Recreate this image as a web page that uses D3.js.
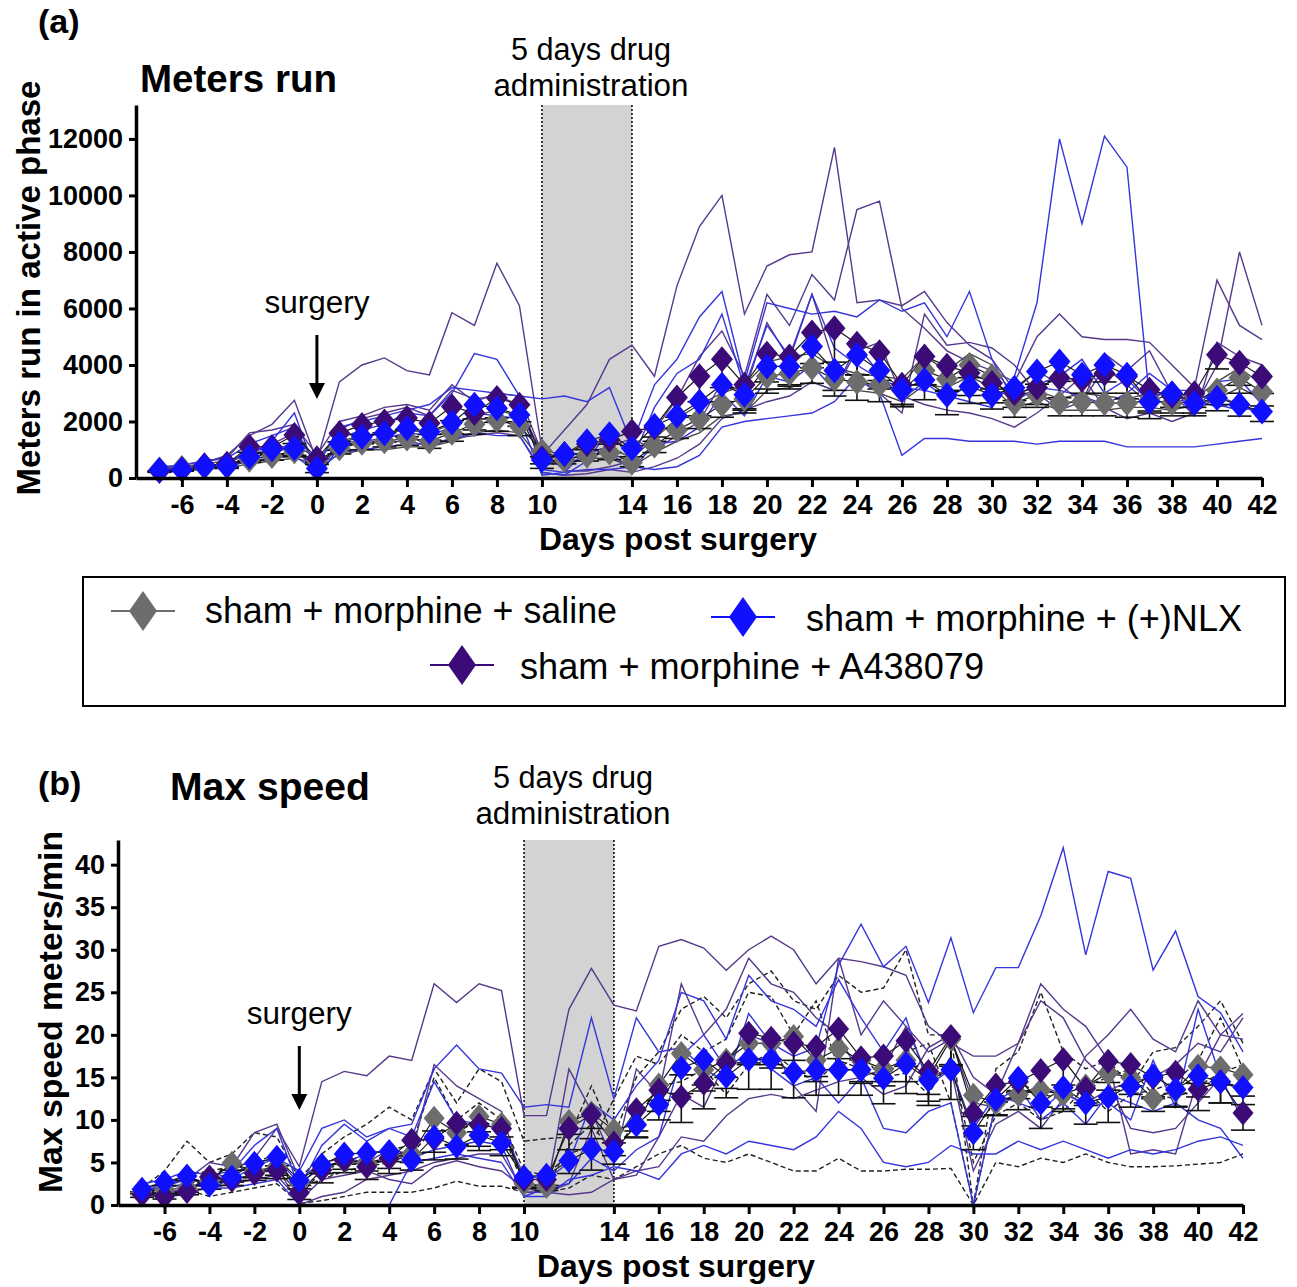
<!DOCTYPE html>
<html>
<head>
<meta charset="utf-8">
<script src="https://cdn.jsdelivr.net/npm/d3@7"></script>
<style>
body { margin: 0; background: #fff; }
text { font-family: Arial, "Liberation Sans", Helvetica, sans-serif; }
</style>
</head>
<body>
<script>
// days post surgery (-7 .. 42)
const days = [
    -7, -6, -5, -4, -3, -2, -1, 0, 1, 2,
    3, 4, 5, 6, 7, 8, 9, 10, 11, 12,
    13, 14, 15, 16, 17, 18, 19, 20, 21, 22,
    23, 24, 25, 26, 27, 28, 29, 30, 31, 32,
    33, 34, 35, 36, 37, 38, 39, 40, 41, 42
];
const xTickDays = [-6, -4, -2, 0, 2, 4, 6, 8, 10, 14, 16, 18, 20, 22, 24, 26, 28, 30, 32, 34, 36, 38, 40, 42];
const yTicksA = [0, 2000, 4000, 6000, 8000, 10000, 12000];
const yTicksB = [0, 5, 10, 15, 20, 25, 30, 35, 40];
const drugDays = [10, 14];
const groupNames = ['sham + morphine + saline', 'sham + morphine + (+)NLX', 'sham + morphine + A438079'];

// ---- (a) meters run, group means
const grayMeanA = [
    300, 350, 400, 450, 650, 780, 950, 600, 1050, 1250,
    1300, 1400, 1300, 1600, 1900, 2050, 1850, 950, 650, 800,
    900, 550, 1150, 1700, 2100, 2600, 2800, 3600, 3700, 3900,
    3500, 3400, 3300, 3100, 3800, 3500, 4000, 3600, 2650, 2950,
    2650, 2700, 2650, 2650, 2750, 2650, 2700, 3100, 3550, 3050
];
const blueMeanA = [
    280, 300, 420, 420, 750, 1020, 1050, 340, 1230, 1460,
    1580, 1760, 1640, 1960, 2590, 2470, 2230, 640, 850, 1300,
    1550, 1050, 1850, 2200, 2700, 3300, 2950, 3950, 3950, 4650,
    3800, 4350, 3800, 3120, 3470, 2940, 3240, 2940, 3190, 3770,
    4120, 3650, 4000, 3650, 2700, 3000, 2650, 2830, 2590, 2350
];
const purpleMeanA = [
    250, 300, 450, 500, 1110, 1100, 1520, 700, 1580, 1880,
    2000, 2120, 1940, 2530, 2300, 2830, 2590, 700, 850, 1200,
    1350, 1650, 1800, 2850, 3600, 4200, 3300, 4400, 4300, 5150,
    5300, 4750, 4450, 3300, 4300, 3970, 3720, 3360, 3000, 3200,
    3540, 3480, 3700, 3600, 3120, 2900, 3000, 4360, 4080, 3590
];
const graySemA = [
    50, 60, 60, 70, 100, 150, 200, 120, 200, 250,
    200, 250, 250, 300, 350, 400, 350, 200, 150, 200,
    250, 150, 250, 300, 350, 450, 500, 600, 550, 550,
    600, 650, 600, 500, 500, 400, 450, 450, 500, 450,
    450, 500, 450, 500, 450, 450, 400, 500, 550, 500
];
const blueSemA = [
    50, 50, 70, 80, 150, 200, 250, 150, 250, 250,
    300, 300, 300, 400, 500, 500, 400, 300, 250, 300,
    350, 300, 400, 450, 500, 600, 500, 800, 700, 750,
    700, 700, 650, 600, 700, 700, 600, 500, 450, 450,
    700, 650, 600, 650, 600, 500, 450, 450, 400, 350
];
const purpleSemA = [
    50, 60, 80, 100, 200, 250, 300, 150, 300, 350,
    400, 400, 400, 500, 600, 700, 600, 200, 250, 350,
    450, 500, 500, 700, 900, 1000, 900, 1000, 1000, 1100,
    1200, 1100, 1000, 700, 1000, 900, 800, 700, 500, 600,
    700, 800, 700, 800, 750, 600, 500, 500, 800, 600
];

// ---- (a) individual animals
const purpleRatsA = [
    [250, 350, 550, 800, 1500, 1900, 2750, 600, 3400, 4000,
     4250, 3800, 3650, 5850, 5400, 7600, 6100, 1000, 250, 250,
     400, 600, 1700, 2800, 4300, 5200, 3600, 6500, 5400, 7200,
     6300, 9500, 9800, 6000, 5300, 4500, 4100, 3800, 3400, 5000,
     5800, 5000, 4900, 4900, 4800, 4000, 3200, 7000, 5400, 4900],
    [300, 300, 400, 500, 900, 1200, 1600, 500, 1700, 2100,
     2300, 2500, 2200, 3100, 2800, 2900, 2600, 800, 1700, 2600,
     4200, 4700, 3600, 6800, 8900, 10000, 5800, 7500, 7900, 8000,
     11700, 6200, 6300, 6100, 6600, 5500, 4700, 4200, 3100, 3800,
     3300, 2700, 3900, 3300, 2600, 3400, 2500, 4000, 8000, 5400],
    [200, 250, 300, 450, 700, 900, 1100, 300, 1100, 1300,
     1200, 1350, 1100, 1400, 1500, 1600, 1500, 200, 100, 150,
     300, 200, 400, 700, 1200, 2100, 2400, 2700, 2900, 3400,
     3100, 4500, 4800, 2900, 2600, 2400, 2300, 2100, 1800, 2300,
     2900, 3600, 2500, 2100, 2300, 2000, 2300, 2900, 2600, 2300],
    [350, 450, 600, 700, 1600, 1700, 1900, 800, 2000, 2200,
     2500, 2600, 2400, 3300, 2700, 3000, 2900, 900, 600, 900,
     1100, 1400, 1000, 1500, 2000, 3400, 3000, 5500, 4200, 6500,
     4000, 3500, 3000, 2300, 5800, 4700, 4800, 4600, 4000, 3000,
     2400, 2700, 4400, 3800, 4500, 3000, 2200, 4800, 4300, 4000]
];
const blueRatsA = [
    [300, 300, 500, 400, 800, 1300, 2300, 100, 1400, 1700,
     1900, 2300, 2200, 3000, 4400, 4200, 2900, 200, 100, 600,
     1700, 600, 2500, 3700, 4200, 5800, 3200, 5400, 4300, 6500,
     4600, 4000, 3500, 3200, 3100, 2900, 2700, 2500, 3600, 6200,
     12000, 9000, 12100, 11000, 2800, 3200, 2300, 3400, 3500, 2600],
    [200, 250, 350, 400, 600, 700, 800, 200, 900, 1000,
     1100, 1200, 1200, 1400, 1600, 1500, 1500, 300, 200, 300,
     300, 400, 300, 400, 800, 1800, 2000, 2100, 2200, 2300,
     2700, 3600, 3000, 800, 1400, 1400, 1300, 1300, 1300, 1200,
     1300, 1300, 1300, 1100, 1100, 1100, 1100, 1200, 1300, 1400],
    [400, 450, 600, 700, 1200, 1500, 1800, 400, 1800, 2000,
     2200, 2400, 2600, 3200, 3100, 3000, 2900, 2800, 2900, 2700,
     3200, 1200, 3300, 4200, 5700, 6600, 3400, 6200, 6000, 5800,
     5900, 5700, 6300, 5900, 6200, 5000, 6600, 4200, 2700, 3200,
     3100, 2900, 2600, 3000, 3700, 3100, 3100, 2600, 2400, 2500],
    [250, 300, 400, 500, 1000, 1000, 1200, 0, 1100, 1300,
     1400, 1600, 1500, 1800, 2300, 2200, 2100, 100, 200, 1000,
     900, 300, 1200, 1300, 1800, 3000, 2200, 3600, 3400, 4000,
     3100, 4700, 3700, 2800, 3400, 2800, 3300, 3100, 2900, 3300,
     3600, 4200, 3000, 3500, 2700, 2700, 2800, 2500, 2700, 2100]
];
const grayRatsA = [
    [350, 400, 500, 600, 800, 1000, 1200, 700, 1300, 1500,
     1600, 1700, 1600, 1900, 2200, 2400, 2200, 1000, 800, 900,
     1100, 700, 1400, 2100, 2600, 3000, 3300, 4100, 4300, 4400,
     3900, 3700, 3600, 3500, 4300, 3800, 4400, 4000, 2900, 3100,
     2800, 3000, 2900, 2800, 3000, 2900, 2800, 3400, 3900, 3300],
    [250, 300, 350, 350, 500, 600, 700, 500, 800, 1000,
     1000, 1100, 1100, 1300, 1600, 1700, 1600, 600, 500, 700,
     700, 400, 900, 1300, 1600, 2200, 2300, 3100, 3200, 3400,
     3100, 3100, 3000, 2700, 3300, 3200, 3600, 3200, 2500, 2700,
     2400, 2400, 2400, 2500, 2500, 2400, 2600, 2800, 3200, 2800]
];

// ---- (b) max speed, group means
const grayMeanB = [
    1.6, 1.8, 2.0, 2.8, 4.9, 4.0, 4.5, 2.5, 4.5, 5.2,
    5.0, 5.5, 6.0, 10.2, 8.5, 10.4, 9.5, 2.5, 2.2, 9.8,
    10.8, 8.8, 9.5, 14.1, 17.8, 15.9, 17.0, 19.0, 19.0, 19.8,
    17.0, 18.4, 17.0, 16.0, 17.0, 15.0, 19.5, 12.9, 12.0, 13.0,
    13.5, 13.0, 14.0, 15.5, 15.0, 12.5, 13.5, 16.3, 16.1, 15.3
];
const blueMeanB = [
    1.85, 2.7, 3.4, 2.35, 3.3, 4.9, 5.6, 2.9, 4.7, 6.0,
    6.1, 6.3, 5.3, 8.0, 6.9, 8.2, 7.3, 3.3, 3.5, 5.2,
    6.6, 6.3, 9.4, 11.8, 16.1, 17.1, 15.1, 17.1, 17.1, 15.6,
    15.9, 15.9, 15.9, 14.9, 16.6, 14.7, 15.9, 8.5, 12.4, 14.9,
    12.0, 13.8, 12.0, 12.7, 14.0, 15.2, 13.6, 15.2, 14.5, 13.8
];
const purpleMeanB = [
    1.2, 1.0, 1.6, 3.3, 2.9, 3.7, 4.1, 1.45, 4.1, 5.3,
    4.5, 5.5, 7.6, 7.8, 9.6, 9.4, 9.0, 3.0, 3.0, 9.0,
    10.6, 7.3, 11.2, 13.5, 12.7, 14.3, 16.7, 20.2, 19.6, 19.0,
    18.6, 20.7, 17.3, 17.5, 19.3, 15.7, 19.8, 10.8, 14.1, 14.5,
    15.8, 17.1, 13.7, 16.9, 16.5, 15.0, 15.6, 13.6, 14.5, 10.8
];
const graySemB = [
    0.3, 0.4, 0.5, 0.5, 0.8, 0.8, 1.0, 0.6, 0.8, 1.0,
    1.0, 1.2, 1.0, 1.5, 1.5, 1.8, 1.5, 0.5, 0.5, 1.5,
    1.8, 1.5, 1.5, 1.8, 2.5, 2.5, 2.0, 2.5, 2.5, 2.8,
    2.5, 2.5, 2.5, 2.0, 2.5, 2.0, 3.0, 2.5, 1.5, 1.8,
    2.0, 2.0, 2.0, 2.0, 2.0, 1.5, 2.0, 2.0, 2.0, 2.5
];
const blueSemB = [
    0.3, 0.4, 0.5, 0.5, 0.6, 0.8, 1.0, 0.6, 1.0, 1.2,
    1.0, 1.2, 1.2, 1.8, 1.5, 1.8, 1.5, 1.2, 1.2, 1.5,
    2.5, 1.5, 1.5, 1.8, 3.0, 3.0, 2.5, 3.5, 3.5, 3.0,
    3.0, 3.0, 3.0, 3.0, 3.5, 3.0, 3.5, 2.0, 1.8, 1.5,
    3.0, 2.5, 2.5, 3.0, 2.5, 2.5, 2.0, 2.5, 2.5, 2.0
];
const purpleSemB = [
    0.3, 0.3, 0.4, 0.6, 0.6, 0.8, 1.0, 0.8, 1.5, 1.5,
    1.5, 1.8, 1.5, 2.5, 2.5, 2.5, 2.5, 1.0, 1.0, 2.5,
    2.8, 1.5, 2.5, 2.5, 3.0, 3.0, 3.0, 3.5, 3.5, 3.5,
    3.5, 3.5, 3.0, 3.0, 3.0, 3.5, 3.5, 1.5, 2.0, 2.0,
    2.5, 3.0, 2.0, 2.5, 2.5, 2.5, 2.5, 2.5, 2.5, 2.0
];

// ---- (b) individual animals
const purpleRatsB = [
    [1.5, 1.3, 2.0, 2.5, 4.0, 5.5, 9.0, 4.5, 14.5, 15.7,
     15.2, 17.5, 17.0, 26.0, 23.8, 26.0, 25.2, 10.5, 10.5, 23.0,
     27.8, 23.5, 22.8, 30.4, 31.2, 30.2, 27.6, 30.0, 31.6, 30.0,
     26.0, 29.0, 28.6, 28.0, 27.0, 21.0, 19.0, 17.5, 17.5, 19.0,
     24.0, 22.0, 17.0, 14.5, 9.0, 8.5, 9.0, 12.0, 15.0, 13.0],
    [1.0, 1.2, 1.5, 2.0, 2.5, 3.0, 3.5, 0.5, 3.0, 3.5,
     4.0, 3.0, 2.5, 4.5, 5.2, 4.5, 4.0, 2.0, 1.5, 1.2,
     1.5, 3.0, 4.0, 4.5, 8.0, 7.5, 10.5, 12.5, 13.0, 12.5,
     13.5, 14.5, 15.0, 16.0, 21.0, 18.0, 19.5, 12.0, 11.5, 13.0,
     14.0, 13.0, 12.0, 13.5, 14.5, 15.0, 16.5, 19.0, 18.0, 22.0],
    [2.0, 2.5, 3.0, 5.0, 4.5, 8.5, 9.5, 3.0, 5.0, 5.5,
     5.0, 6.5, 6.0, 16.5, 14.0, 12.5, 11.0, 2.0, 1.5, 16.0,
     11.0, 5.0, 16.0, 13.0, 26.0, 20.0, 23.0, 29.0, 26.0, 25.0,
     22.0, 20.0, 15.0, 13.0, 14.0, 18.5, 20.0, 15.0, 13.0, 19.0,
     26.0, 23.0, 21.0, 17.0, 6.0, 6.5, 6.0, 15.0, 20.0, 22.5],
    [1.5, 1.0, 1.2, 4.0, 3.0, 3.5, 4.5, 0.0, 1.0, 1.5,
     3.0, 3.5, 4.0, 5.0, 5.5, 6.0, 6.0, 1.5, 1.5, 2.5,
     9.0, 3.0, 3.5, 8.0, 13.0, 11.5, 17.0, 20.0, 19.0, 14.0,
     11.0, 29.0, 20.0, 24.0, 21.0, 15.0, 16.0, 4.0, 9.5, 11.0,
     9.0, 12.5, 17.5, 20.0, 23.0, 19.5, 18.0, 24.0, 20.0, 19.5]
];
const blueRatsB = [
    [2.0, 2.5, 3.5, 2.0, 3.0, 4.5, 5.5, 4.0, 9.0, 10.0,
     8.0, 9.0, 9.5, 16.0, 18.8, 16.0, 15.5, 11.5, 11.8, 11.5,
     22.0, 12.5, 22.0, 18.0, 18.5, 16.0, 14.5, 22.5, 19.0, 17.5,
     18.5, 28.2, 33.0, 28.0, 30.4, 23.8, 31.4, 22.6, 27.9, 27.9,
     34.0, 42.0, 29.4, 39.2, 38.4, 27.6, 32.2, 24.5, 22.6, 18.0],
    [1.5, 2.0, 2.5, 2.0, 2.0, 2.5, 3.0, 0.0, 0.0, 0.0,
     0.0, 0.0, 5.0, 5.5, 6.0, 5.5, 5.0, 1.0, 1.0, 3.0,
     3.5, 4.5, 4.0, 3.0, 6.0, 7.0, 6.0, 7.5, 7.0, 6.5,
     8.0, 11.0, 9.0, 5.0, 4.5, 5.0, 7.0, 6.0, 6.0, 7.5,
     6.5, 7.5, 6.5, 5.5, 6.5, 6.0, 6.5, 7.5, 8.0, 7.0],
    [2.5, 3.0, 4.0, 3.5, 4.0, 7.0, 9.0, 2.0, 7.0, 9.5,
     7.5, 9.0, 8.0, 14.5, 10.0, 9.5, 9.0, 3.5, 3.0, 5.0,
     12.0, 10.0, 14.0, 17.0, 25.0, 24.0, 19.5, 27.0, 24.0, 23.0,
     21.0, 26.5, 22.0, 18.0, 22.0, 14.0, 16.0, 9.0, 13.0, 12.0,
     11.0, 13.5, 11.5, 12.0, 10.0, 17.0, 11.5, 23.0, 15.0, 10.0],
    [1.8, 2.2, 3.0, 2.5, 3.5, 5.0, 5.5, 2.5, 4.5, 5.0,
     6.0, 6.5, 5.5, 6.5, 7.0, 7.5, 7.0, 1.0, 2.0, 2.5,
     5.5, 4.0, 6.5, 8.0, 17.5, 20.0, 16.0, 18.0, 16.0, 14.0,
     15.0, 12.0, 15.0, 9.0, 8.5, 11.0, 12.0, 0.0, 12.0, 14.0,
     10.0, 12.0, 9.5, 13.0, 12.0, 11.0, 12.0, 10.0, 9.0, 5.5]
];
const grayRatsB = [
    [2.0, 4.0, 7.5, 5.0, 6.0, 8.5, 8.0, 3.0, 6.0, 8.0,
     9.5, 11.5, 10.0, 16.0, 12.0, 16.0, 14.5, 7.5, 7.8, 8.0,
     14.0, 8.0, 15.0, 18.0, 23.0, 24.5, 22.0, 26.0, 27.5, 24.0,
     23.0, 27.0, 25.0, 25.5, 30.0, 20.0, 20.0, 0.0, 16.0, 18.0,
     25.0, 18.0, 16.0, 17.0, 14.0, 18.0, 18.5, 21.0, 24.0, 19.0],
    [1.5, 1.5, 1.8, 1.0, 1.5, 2.0, 2.5, 0.2, 0.5, 1.0,
     1.5, 1.5, 1.5, 2.0, 2.8, 2.2, 2.2, 1.5, 1.5, 2.0,
     3.5, 3.0, 4.5, 6.0, 7.0, 5.5, 5.0, 6.0, 5.0, 4.0,
     4.0, 5.5, 4.0, 4.0, 4.2, 4.2, 4.3, 0.0, 5.0, 4.5,
     5.5, 5.0, 6.0, 5.0, 4.5, 4.5, 4.6, 4.8, 5.0, 6.0],
    [1.2, 2.5, 3.5, 4.0, 4.5, 5.0, 6.0, 1.0, 4.0, 5.0,
     6.0, 6.5, 7.0, 15.0, 10.0, 12.0, 10.0, 4.0, 3.5, 6.0,
     7.0, 12.5, 17.5, 16.5, 20.0, 18.0, 19.5, 25.0, 24.5, 20.0,
     24.0, 16.0, 18.0, 14.5, 18.0, 19.0, 12.0, 0.0, 12.0, 14.5,
     13.0, 12.5, 13.5, 11.0, 13.0, 13.5, 14.5, 17.0, 22.0, 16.0],
    [1.8, 2.0, 2.5, 3.0, 5.0, 3.5, 4.5, 2.0, 3.0, 4.0,
     4.5, 5.0, 6.0, 9.0, 8.5, 10.0, 9.0, 2.0, 2.0, 7.0,
     9.5, 6.0, 10.0, 14.0, 14.5, 16.0, 13.0, 16.5, 18.0, 16.0,
     14.5, 17.0, 16.0, 15.0, 15.5, 13.0, 17.5, 5.0, 10.5, 12.0,
     10.0, 11.0, 14.0, 15.0, 16.0, 13.0, 12.5, 14.0, 15.5, 16.5]
];

const grayColor = '#6d6d6d';
const blueColor = '#1010ff';
const purpleColor = '#3b0b78';

const svg = d3
.select('body')
.append('svg')
.attr('width', 1297)
.attr('height', 1287)

// diamond marker, w x h
const diamond = (w, h) => `M0,${-h / 2}L${w / 2},0L0,${h / 2}L${-w / 2},0Z`;

function drawPanel(p) {
    const x = d3.scaleLinear().domain([p.xStart, 42]).range([p.left, p.right]);
    const y = d3.scaleLinear().domain([0, p.yMax]).range([p.bottom, p.top]);
    const g = svg.append('g');

    // drug window
    g.append('rect')
    .attr('x', x(drugDays[0]))
    .attr('y', p.top)
    .attr('width', x(drugDays[1]) - x(drugDays[0]))
    .attr('height', p.bottom - p.top)
    .attr('fill', '#d3d3d3')
    g.selectAll('.drugline')
    .data(drugDays).enter()
    .append('line')
    .attr('x1', (d) => x(d)).attr('x2', (d) => x(d))
    .attr('y1', p.top).attr('y2', p.bottom)
    .attr('stroke', '#111')
    .attr('stroke-width', 1.6)
    .attr('stroke-dasharray', '2,2')

    const line = d3.line()
    .x((d, i) => x(days[i]))
    .y((d) => y(d))

    // single animals
    const rats = [
        ...p.grayRats.map((r) => ({ v: r, c: p.grayRatColor, dash: p.grayDash })),
        ...p.purpleRats.map((r) => ({ v: r, c: '#56398c', dash: null })),
        ...p.blueRats.map((r) => ({ v: r, c: '#3535dd', dash: null }))
    ];
    g.selectAll('.rat')
    .data(rats).enter()
    .append('path')
    .attr('d', (d) => line(d.v))
    .attr('fill', 'none')
    .attr('stroke', (d) => d.c)
    .attr('stroke-width', 1.4)
    .attr('stroke-dasharray', (d) => d.dash)

    const groups = [
        { mean: p.grayMean, sem: p.graySem, color: grayColor },
        { mean: p.purpleMean, sem: p.purpleSem, color: purpleColor },
        { mean: p.blueMean, sem: p.blueSem, color: blueColor }
    ];

    groups.forEach((grp) => {
        g.append('path')
        .attr('d', line(grp.mean))
        .attr('fill', 'none')
        .attr('stroke', '#1a1a1a')
        .attr('stroke-width', 1.2)
    })

    // error bars (downward, black)
    groups.forEach((grp) => {
        const eb = g.append('g').attr('stroke', '#111').attr('stroke-width', 1.6);
        grp.mean.forEach((m, i) => {
            const lo = Math.max(0, m - grp.sem[i]);
            eb.append('line')
            .attr('x1', x(days[i])).attr('x2', x(days[i]))
            .attr('y1', y(m)).attr('y2', y(lo))
            eb.append('line')
            .attr('x1', x(days[i]) - 12).attr('x2', x(days[i]) + 12)
            .attr('y1', y(lo)).attr('y2', y(lo))
        })
    })

    groups.forEach((grp) => {
        g.selectAll(null)
        .data(grp.mean).enter()
        .append('path')
        .attr('d', diamond(p.mw, p.mh))
        .attr('transform', (d, i) => `translate(${x(days[i])},${y(d)})`)
        .attr('fill', grp.color)
    })

    // axes (plain hyphen for negatives, like the original)
    const yAxis = g.append('g')
    .attr('transform', `translate(${p.left},0)`)
    .call(d3.axisLeft(y).tickValues(p.yTicks).tickFormat((d) => String(d)).tickSize(7).tickSizeOuter(0).tickPadding(6))
    const xAxis = g.append('g')
    .attr('transform', `translate(0,${p.bottom})`)
    .call(d3.axisBottom(x).tickValues(xTickDays).tickFormat((d) => String(d)).tickSize(9).tickSizeOuter(0).tickPadding(8))
    ;[yAxis, xAxis].forEach((ax) => {
        ax.select('.domain').attr('stroke', '#000').attr('stroke-width', 3.5)
        ax.selectAll('.tick line').attr('stroke', '#000').attr('stroke-width', 3)
        ax.selectAll('.tick text')
        .attr('fill', '#000')
        .style('font-family', 'Arial, "Liberation Sans", sans-serif')
        .style('font-weight', 'bold')
        .style('font-size', '27px')
    })

    // annotations
    g.append('text')
    .attr('x', 38).attr('y', p.letterY)
    .style('font-weight', 'bold').style('font-size', '34px')
    .text(p.letter)
    g.append('text')
    .attr('x', p.titleX).attr('y', p.titleY)
    .attr('textLength', p.titleLen).attr('lengthAdjust', 'spacingAndGlyphs')
    .style('font-weight', 'bold').style('font-size', '38px')
    .text(p.title)
    const drugX = (x(drugDays[0]) + x(drugDays[1])) / 2 + 4;
    g.append('text')
    .attr('x', drugX).attr('y', p.drugY)
    .attr('text-anchor', 'middle').style('font-size', '31px')
    .attr('textLength', 160).attr('lengthAdjust', 'spacingAndGlyphs')
    .text('5 days drug')
    g.append('text')
    .attr('x', drugX).attr('y', p.drugY + 36)
    .attr('text-anchor', 'middle').style('font-size', '31px')
    .attr('textLength', 195).attr('lengthAdjust', 'spacingAndGlyphs')
    .text('administration')
    g.append('text')
    .attr('x', x(0)).attr('y', p.surgeryY)
    .attr('text-anchor', 'middle').style('font-size', '31px')
    .attr('textLength', 105).attr('lengthAdjust', 'spacingAndGlyphs')
    .text('surgery')
    g.append('line')
    .attr('x1', x(0)).attr('x2', x(0))
    .attr('y1', p.surgeryY + 22).attr('y2', p.surgeryY + 72)
    .attr('stroke', '#000').attr('stroke-width', 3)
    g.append('path')
    .attr('d', `M${x(0) - 8},${p.surgeryY + 70}L${x(0) + 8},${p.surgeryY + 70}L${x(0)},${p.surgeryY + 86}Z`)
    .attr('fill', '#000')

    g.append('text')
    .attr('transform', `translate(${p.yLabelX},${p.yLabelY}) rotate(-90)`)
    .attr('text-anchor', 'middle')
    .attr('textLength', p.yLabelLen).attr('lengthAdjust', 'spacingAndGlyphs')
    .style('font-weight', 'bold').style('font-size', '34px')
    .text(p.yLabel)
    g.append('text')
    .attr('x', p.xLabelX).attr('y', p.bottom + 72)
    .attr('text-anchor', 'middle')
    .attr('textLength', 278).attr('lengthAdjust', 'spacingAndGlyphs')
    .style('font-weight', 'bold').style('font-size', '31px')
    .text('Days post surgery')
}

drawPanel({
    xStart: -8.04, left: 136, right: 1262,
    yMax: 13200, top: 105, bottom: 478, yTicks: yTicksA,
    grayMean: grayMeanA, blueMean: blueMeanA, purpleMean: purpleMeanA,
    graySem: graySemA, blueSem: blueSemA, purpleSem: purpleSemA,
    grayRats: grayRatsA, purpleRats: purpleRatsA, blueRats: blueRatsA,
    grayRatColor: '#4a4a4a', grayDash: null,
    mw: 22, mh: 26,
    letter: '(a)', letterY: 33,
    title: 'Meters run', titleX: 140, titleY: 92, titleLen: 197,
    drugY: 60, surgeryY: 313,
    yLabel: 'Meters run in active phase', yLabelX: 40, yLabelY: 288, yLabelLen: 415,
    xLabelX: 678
})

drawPanel({
    xStart: -8.07, left: 118, right: 1243,
    yMax: 42.9, top: 840, bottom: 1205, yTicks: yTicksB,
    grayMean: grayMeanB, blueMean: blueMeanB, purpleMean: purpleMeanB,
    graySem: graySemB, blueSem: blueSemB, purpleSem: purpleSemB,
    grayRats: grayRatsB, purpleRats: purpleRatsB, blueRats: blueRatsB,
    grayRatColor: '#222', grayDash: '5,3',
    mw: 21, mh: 25,
    letter: '(b)', letterY: 795,
    title: 'Max speed', titleX: 170, titleY: 800, titleLen: 200,
    drugY: 788, surgeryY: 1024,
    yLabel: 'Max speed meters/min', yLabelX: 62, yLabelY: 1012, yLabelLen: 362,
    xLabelX: 676
})

// legend
const legend = svg.append('g');
legend.append('rect')
.attr('x', 83).attr('y', 577)
.attr('width', 1202).attr('height', 129)
.attr('fill', 'none').attr('stroke', '#000').attr('stroke-width', 2)

const legendItems = [
    { name: groupNames[0], color: grayColor, mx: 143, my: 611, tx: 205, ty: 623, len: 412 },
    { name: groupNames[1], color: blueColor, mx: 743, my: 617, tx: 806, ty: 631, len: 436 },
    { name: groupNames[2], color: purpleColor, mx: 462, my: 665, tx: 520, ty: 679, len: 464 }
];
const li = legend.selectAll('.item')
.data(legendItems).enter()
.append('g')
li.append('line')
.attr('x1', (d) => d.mx - 32).attr('x2', (d) => d.mx + 32)
.attr('y1', (d) => d.my).attr('y2', (d) => d.my)
.attr('stroke', (d) => d.color).attr('stroke-width', 2)
li.append('path')
.attr('d', diamond(28, 40))
.attr('transform', (d) => `translate(${d.mx},${d.my})`)
.attr('fill', (d) => d.color)
li.append('text')
.attr('x', (d) => d.tx).attr('y', (d) => d.ty)
.attr('textLength', (d) => d.len).attr('lengthAdjust', 'spacingAndGlyphs')
.style('font-size', '37px')
.text((d) => d.name)
</script>
</body>
</html>
